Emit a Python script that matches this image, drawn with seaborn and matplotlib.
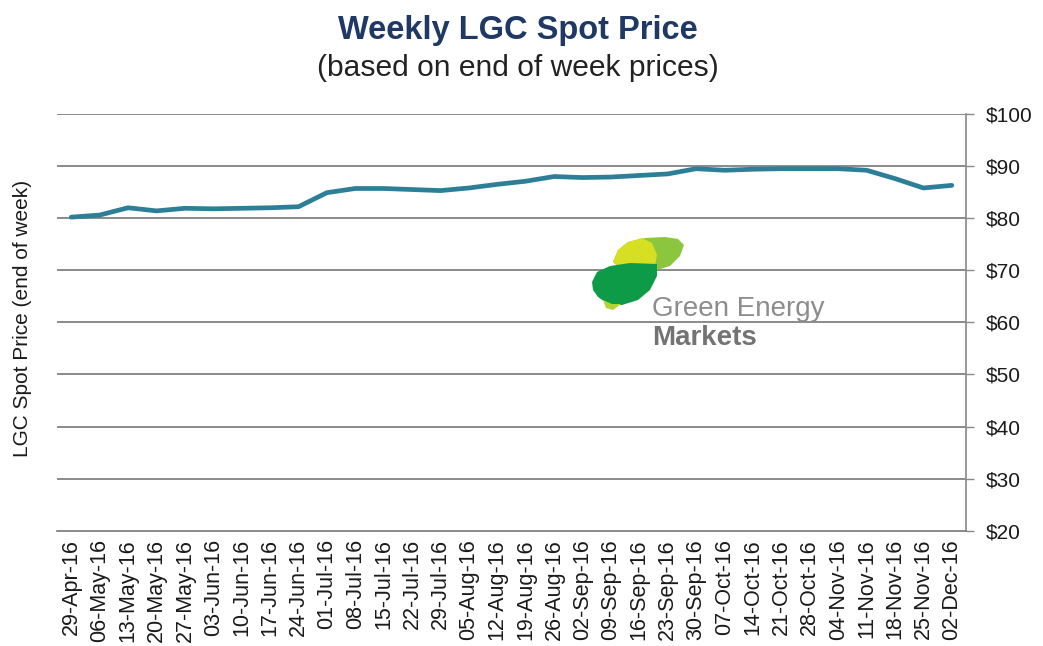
import numpy as np
import pandas as pd
import matplotlib
matplotlib.use("Agg")
import matplotlib.pyplot as plt
from matplotlib.patches import Polygon
import seaborn as sns

# week-ending dates and spot prices ($/LGC)
weeks = [
    "29-Apr-16", "06-May-16", "13-May-16", "20-May-16", "27-May-16", "03-Jun-16",
    "10-Jun-16", "17-Jun-16", "24-Jun-16", "01-Jul-16", "08-Jul-16", "15-Jul-16",
    "22-Jul-16", "29-Jul-16", "05-Aug-16", "12-Aug-16", "19-Aug-16", "26-Aug-16",
    "02-Sep-16", "09-Sep-16", "16-Sep-16", "23-Sep-16", "30-Sep-16", "07-Oct-16",
    "14-Oct-16", "21-Oct-16", "28-Oct-16", "04-Nov-16", "11-Nov-16", "18-Nov-16",
    "25-Nov-16", "02-Dec-16",
]
prices = [
    80.2, 80.6, 82.0, 81.4, 81.9, 81.8, 81.9, 82.0, 82.2, 84.9, 85.7, 85.7,
    85.5, 85.3, 85.8, 86.5, 87.1, 88.0, 87.8, 87.9, 88.2, 88.5, 89.5, 89.2,
    89.4, 89.5, 89.5, 89.5, 89.2, 87.6, 85.8, 86.3,
]
y_ticks = [20, 30, 40, 50, 60, 70, 80, 90, 100]

df = pd.DataFrame({"week": weeks, "price": prices})
df["pos"] = np.arange(len(df))

sns.set_style("white")
plt.rcParams["font.family"] = ["Liberation Sans", "DejaVu Sans"]

fig = plt.figure(figsize=(10.43, 6.46), dpi=100)
ax = fig.add_axes([0.0547, 0.1785, 0.8715, 0.645])

sns.lineplot(data=df, x="pos", y="price", color="#2d7f98", linewidth=3.4, ax=ax)

ax.set_xlim(-0.5, len(df) - 0.5)
ax.set_ylim(y_ticks[0], y_ticks[-1])

# horizontal gridlines
for v in y_ticks[1:]:
    ax.axhline(v, color="#8a8a8a", linewidth=1.4, zorder=0)

ax.set_xticks(df["pos"])
ax.set_xticklabels(df["week"], rotation=90, fontsize=15.5, color="#1a1a1a")
ax.set_xticks(np.arange(-0.5, len(df)), minor=True)
ax.tick_params(axis="x", which="major", length=0, pad=6)
ax.tick_params(axis="x", which="minor", length=5, direction="inout", color="#777777", width=1)

ax.yaxis.tick_right()
ax.set_yticks(y_ticks)
ax.set_yticklabels([f"${v}" for v in y_ticks], fontsize=15, color="#1a1a1a")
ax.tick_params(axis="y", length=6, direction="out", color="#888888", width=1, pad=8)

ax.set_xlabel("")
ax.set_ylabel("LGC Spot Price (end of week)", fontsize=15, color="#1a1a1a")
ax.yaxis.set_label_position("left")
ax.yaxis.set_label_coords(-0.028, 0.51)

for side in ["left", "top"]:
    ax.spines[side].set_visible(False)
ax.spines["right"].set_color("#888888")
ax.spines["bottom"].set_color("#777777")
ax.spines["right"].set_linewidth(1.2)
ax.spines["bottom"].set_linewidth(1.2)

fig.text(0.497, 0.953, "Weekly LGC Spot Price", ha="center", va="center",
         fontsize=23.5, fontweight="bold", color="#1f3864")
fig.text(0.497, 0.895, "(based on end of week prices)", ha="center", va="center",
         fontsize=21.6, color="#222222")

# Green Energy Markets watermark logo (figure pixel coords -> fractions)
W, H = 1043, 646


def fig_poly(points, color):
    pts = [(x / W, 1 - y / H) for x, y in points]
    fig.patches.append(Polygon(pts, closed=True, facecolor=color, edgecolor="none",
                               transform=fig.transFigure, figure=fig, zorder=5))


fig_poly([(613, 262), (618, 250), (628, 242), (645, 238), (665, 237), (678, 239),
          (684, 245), (680, 256), (670, 266), (650, 272), (625, 272)], "#8cc63f")
fig_poly([(613, 262), (618, 250), (628, 242), (642, 238), (652, 243), (657, 255),
          (655, 266), (640, 271), (622, 270)], "#d7df23")
fig_poly([(592, 282), (597, 272), (610, 266), (630, 263), (657, 264), (657, 276),
          (650, 290), (638, 300), (622, 305), (608, 304), (598, 297), (593, 290)], "#0d9b48")
fig_poly([(603, 300), (612, 304), (621, 304), (613, 310), (606, 308)], "#b5d334")

fig.text(652 / W, 1 - 309 / H, "Green Energy", ha="left", va="center",
         fontsize=20, color="#8c8c8c")
fig.text(652 / W, 1 - 338 / H, "Markets", ha="left", va="center",
         fontsize=20, fontweight="bold", color="#737373")

fig.savefig("out.png", dpi=100)
